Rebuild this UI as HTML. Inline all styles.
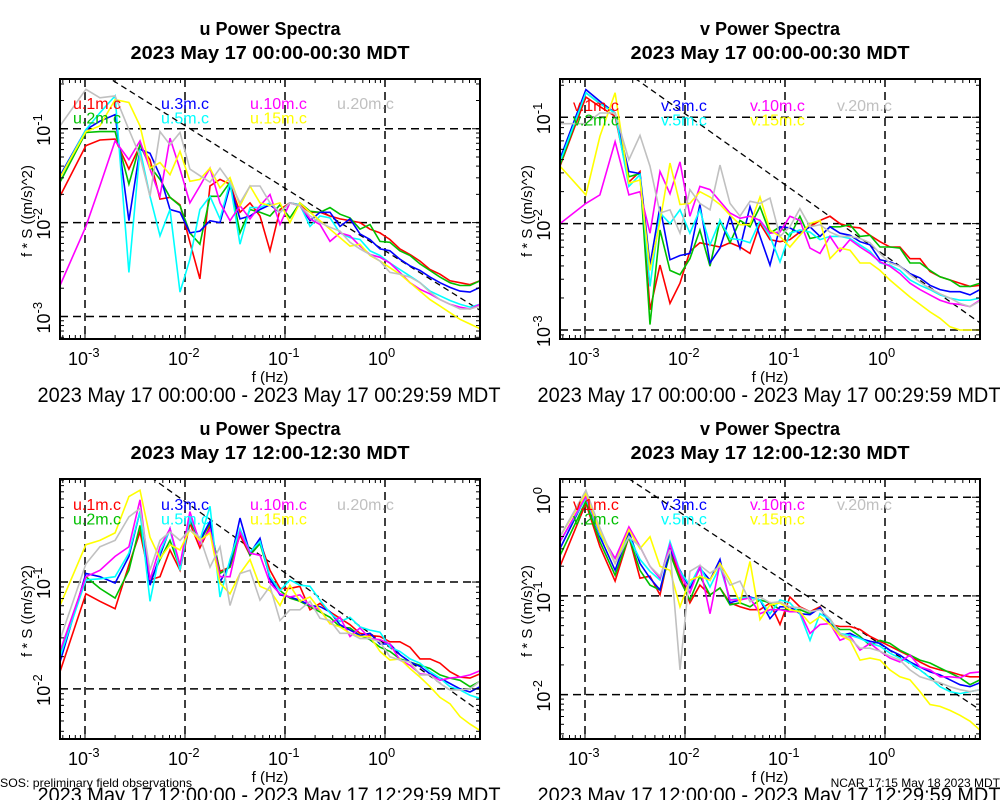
<!DOCTYPE html>
<html><head><meta charset="utf-8">
<style>
html,body{margin:0;padding:0;background:#fff;}
svg{display:block;font-family:"Liberation Sans",Arial,sans-serif;}
</style></head>
<body>
<svg id="chart" xmlns="http://www.w3.org/2000/svg" width="1000" height="800" viewBox="0 0 1000 800">
<text x="0" y="787" font-size="12" textLength="192" lengthAdjust="spacingAndGlyphs">SOS: preliminary field observations</text>
<text x="1000" y="787" font-size="12" text-anchor="end">NCAR 17:15 May 18 2023 MDT</text>
</svg>
<script>
// Frequencies (Hz), shared by all panels
const freqHz=[0.000562,0.00102,0.00141,0.00200,0.00275,0.00355,0.00447,0.00562,0.00708,0.00891,0.0112,0.0141,0.0178,0.0224,0.0282,0.0355,0.0447,0.0562,0.0708,0.0891,0.112,0.141,0.178,0.224,0.282,0.355,0.447,0.562,0.708,0.891,1.12,1.41,1.78,2.24,2.82,3.55,4.47,5.62,7.08,8.91];
const seriesNamesU=["u.1m.c","u.2m.c","u.3m.c","u.5m.c","u.10m.c","u.15m.c","u.20m.c"];
const seriesNamesV=["v.1m.c","v.2m.c","v.3m.c","v.5m.c","v.10m.c","v.15m.c","v.20m.c"];
// log10(f*S) values, panel 1 (u, 00:00-00:30)
const p1_1m=[-1.72,-1.18,-1.12,-1.11,-1.43,-1.18,-1.33,-1.75,-1.73,-1.81,-2.21,-2.60,-1.61,-1.54,-1.59,-1.89,-1.79,-1.93,-2.30,-1.86,-1.79,-1.81,-1.89,-1.89,-1.93,-1.96,-1.98,-2.00,-2.07,-2.11,-2.18,-2.28,-2.34,-2.41,-2.50,-2.55,-2.62,-2.64,-2.66,-2.62];
const p1_2m=[-1.57,-1.04,-1.03,-1.03,-1.59,-1.17,-1.40,-1.54,-1.73,-1.82,-2.11,-2.23,-1.72,-1.72,-1.57,-2.11,-1.86,-1.89,-1.93,-1.81,-1.95,-1.79,-1.88,-1.89,-1.84,-1.91,-1.95,-2.07,-2.02,-2.20,-2.21,-2.30,-2.35,-2.44,-2.51,-2.58,-2.64,-2.67,-2.67,-2.62];
const p1_3m=[-1.50,-1.01,-0.92,-0.85,-1.98,-1.22,-1.26,-1.50,-1.86,-1.89,-2.11,-2.09,-1.98,-2.00,-1.61,-1.96,-1.93,-1.86,-1.81,-1.89,-1.79,-1.82,-1.98,-1.89,-1.89,-2.04,-1.96,-2.12,-2.18,-2.28,-2.30,-2.39,-2.46,-2.51,-2.58,-2.64,-2.69,-2.73,-2.74,-2.69];
const p1_5m=[-1.52,-1.01,-0.83,-0.65,-2.53,-1.22,-1.72,-2.14,-1.86,-2.74,-2.39,-1.86,-1.72,-1.96,-1.57,-2.23,-1.84,-1.84,-1.79,-1.89,-1.79,-1.81,-2.04,-1.93,-1.95,-2.11,-2.16,-2.18,-2.30,-2.35,-2.43,-2.50,-2.57,-2.64,-2.73,-2.78,-2.83,-2.87,-2.90,-2.87];
const p1_10m=[-2.67,-2.04,-1.61,-1.13,-1.33,-1.13,-1.43,-1.72,-1.10,-1.43,-1.79,-1.61,-1.42,-1.79,-1.98,-1.82,-1.96,-1.82,-1.70,-2.02,-1.79,-1.82,-1.96,-2.02,-2.20,-2.11,-2.14,-2.25,-2.34,-2.37,-2.43,-2.53,-2.64,-2.71,-2.76,-2.82,-2.87,-2.90,-2.92,-2.87];
const p1_15m=[-1.52,-1.03,-0.97,-0.69,-0.72,-0.97,-1.42,-1.36,-1.49,-1.24,-1.56,-1.54,-1.42,-1.63,-1.52,-1.82,-1.61,-1.79,-1.82,-1.79,-2.00,-1.79,-1.89,-1.98,-2.07,-2.16,-2.25,-2.23,-2.35,-2.41,-2.48,-2.55,-2.64,-2.73,-2.82,-2.89,-2.96,-3.03,-3.08,-3.13];
const p1_20m=[-0.97,-0.58,-0.67,-0.65,-1.01,-1.29,-1.72,-1.03,-1.17,-1.04,-1.43,-1.50,-1.57,-1.42,-1.57,-1.79,-1.61,-1.61,-1.79,-1.89,-1.79,-1.82,-1.93,-2.00,-2.05,-2.09,-2.21,-2.28,-2.34,-2.41,-2.53,-2.55,-2.58,-2.64,-2.74,-2.82,-2.87,-2.92,-2.92,-2.89];
// panel 2 (v, 00:00-00:30)
const p2_1m=[-1.46,-0.81,-0.90,-0.99,-1.61,-1.51,-2.81,-2.39,-2.75,-2.56,-2.26,-2.18,-2.20,-2.22,-2.18,-2.22,-2.28,-2.00,-2.15,-2.17,-2.15,-2.08,-2.03,-1.97,-1.93,-2.00,-2.03,-2.04,-2.11,-2.17,-2.22,-2.22,-2.33,-2.33,-2.45,-2.50,-2.53,-2.56,-2.59,-2.58];
const p2_2m=[-1.45,-0.77,-0.87,-0.96,-1.56,-1.53,-2.95,-2.06,-2.44,-2.48,-2.33,-2.06,-2.40,-1.97,-2.18,-1.97,-2.03,-1.84,-2.09,-2.03,-2.12,-1.93,-2.14,-2.12,-2.03,-2.03,-2.01,-2.12,-2.11,-2.22,-2.22,-2.23,-2.37,-2.37,-2.44,-2.50,-2.53,-2.59,-2.59,-2.56];
const p2_3m=[-1.39,-0.74,-0.85,-0.96,-1.51,-1.53,-2.39,-1.84,-2.34,-2.30,-2.28,-1.82,-2.37,-2.23,-1.93,-2.23,-1.84,-2.12,-2.39,-2.03,-2.04,-2.09,-2.03,-2.12,-2.03,-2.09,-2.11,-2.17,-2.20,-2.34,-2.36,-2.40,-2.47,-2.51,-2.58,-2.62,-2.64,-2.64,-2.67,-2.62];
const p2_5m=[-1.42,-0.77,-0.87,-0.96,-1.65,-1.54,-2.59,-1.90,-2.00,-1.87,-2.09,-1.87,-2.20,-1.97,-2.14,-2.15,-2.18,-1.97,-2.12,-2.36,-2.09,-2.06,-2.08,-2.15,-2.12,-2.12,-2.14,-2.20,-2.26,-2.37,-2.39,-2.44,-2.53,-2.58,-2.62,-2.67,-2.70,-2.72,-2.72,-2.70];
const p2_10m=[-2.00,-1.81,-1.73,-1.23,-1.73,-1.70,-2.09,-1.51,-1.72,-1.42,-1.93,-1.65,-1.68,-1.79,-1.90,-1.95,-1.93,-1.97,-2.09,-2.08,-1.93,-1.97,-2.23,-2.28,-2.12,-2.26,-2.15,-2.22,-2.28,-2.36,-2.40,-2.47,-2.56,-2.62,-2.67,-2.72,-2.75,-2.76,-2.78,-2.72];
const p2_15m=[-1.46,-1.73,-1.18,-0.77,-1.62,-1.59,-2.44,-1.98,-1.43,-1.82,-1.81,-1.70,-1.75,-1.82,-1.92,-2.01,-2.01,-1.75,-2.06,-2.12,-2.22,-2.11,-2.00,-1.97,-2.33,-2.23,-2.25,-2.37,-2.37,-2.44,-2.53,-2.61,-2.69,-2.76,-2.83,-2.89,-2.97,-3.00,-3.00,-3.00];
const p2_20m=[-1.06,-1.06,-0.96,-0.96,-1.40,-1.17,-1.46,-1.90,-1.87,-2.09,-1.68,-1.81,-1.87,-1.45,-1.81,-1.93,-1.79,-1.81,-1.76,-2.12,-2.03,-1.86,-2.03,-2.01,-2.08,-2.12,-2.12,-2.14,-2.18,-2.28,-2.37,-2.40,-2.48,-2.55,-2.61,-2.66,-2.70,-2.75,-2.78,-2.73];
// panel 3 (u, 12:00-12:30)
const p3_1m=[-1.84,-1.11,-1.18,-1.25,-0.84,-0.53,-0.98,-0.95,-0.70,-0.89,-0.45,-0.68,-0.48,-0.90,-0.86,-0.56,-0.75,-0.62,-0.89,-1.06,-1.06,-1.04,-1.26,-1.20,-1.28,-1.34,-1.40,-1.48,-1.50,-1.51,-1.56,-1.56,-1.61,-1.72,-1.72,-1.76,-1.84,-1.89,-1.90,-1.86];
const p3_2m=[-1.67,-0.95,-1.06,-1.15,-0.89,-0.47,-1.00,-0.79,-0.61,-0.87,-0.42,-0.62,-0.45,-0.92,-0.86,-0.51,-0.75,-0.64,-0.95,-1.08,-1.15,-1.18,-1.23,-1.28,-1.33,-1.42,-1.43,-1.50,-1.54,-1.61,-1.65,-1.72,-1.75,-1.78,-1.81,-1.87,-1.90,-1.92,-1.98,-1.93];
const p3_3m=[-1.75,-0.92,-0.95,-1.01,-0.76,-0.34,-1.03,-0.75,-0.50,-0.87,-0.40,-0.61,-0.43,-1.00,-0.83,-0.40,-0.73,-0.59,-0.97,-1.12,-1.14,-1.17,-1.22,-1.23,-1.28,-1.40,-1.45,-1.50,-1.48,-1.58,-1.58,-1.68,-1.75,-1.79,-1.86,-1.90,-1.95,-2.00,-2.03,-1.98];
const p3_5m=[-1.70,-0.98,-0.97,-0.95,-0.73,-0.34,-1.18,-0.72,-0.51,-0.89,-0.39,-0.61,-0.29,-1.14,-0.79,-0.50,-0.72,-0.62,-0.95,-1.08,-0.98,-1.03,-1.04,-1.17,-1.29,-1.37,-1.33,-1.42,-1.45,-1.47,-1.61,-1.65,-1.72,-1.76,-1.84,-1.90,-1.98,-2.01,-2.06,-2.09];
const p3_10m=[-1.65,-0.95,-0.89,-0.76,-0.67,-0.23,-0.98,-0.67,-0.50,-0.84,-0.34,-0.64,-0.51,-0.95,-0.95,-0.53,-0.73,-0.75,-1.01,-1.11,-1.14,-1.12,-1.22,-1.26,-1.39,-1.33,-1.51,-1.43,-1.53,-1.54,-1.58,-1.73,-1.78,-1.86,-1.87,-1.92,-1.90,-1.89,-1.87,-1.83];
const p3_15m=[-1.22,-0.65,-0.61,-0.54,-0.20,-0.14,-0.58,-0.78,-0.65,-0.70,-0.51,-0.61,-0.54,-1.01,-1.11,-0.92,-0.79,-1.04,-1.08,-1.22,-1.03,-1.18,-1.14,-1.26,-1.39,-1.42,-1.48,-1.51,-1.51,-1.65,-1.73,-1.72,-1.81,-1.89,-1.98,-2.08,-2.14,-2.26,-2.33,-2.39];
const p3_20m=[-1.54,-0.83,-0.67,-0.61,-0.39,-0.31,-0.89,-0.61,-0.53,-0.61,-0.51,-0.58,-0.86,-0.67,-1.22,-0.92,-0.89,-1.17,-1.04,-1.36,-1.26,-1.26,-1.18,-1.34,-1.36,-1.48,-1.48,-1.53,-1.53,-1.56,-1.70,-1.73,-1.75,-1.87,-1.87,-1.95,-2.01,-2.01,-2.00,-1.93];
// panel 4 (v, 12:00-12:30)
const p4_1m=[-0.70,-0.06,-0.50,-0.85,-0.40,-0.82,-0.80,-0.99,-0.53,-0.80,-1.07,-0.89,-0.99,-0.92,-1.07,-1.11,-1.14,-1.14,-1.07,-1.29,-1.01,-1.11,-1.16,-1.11,-1.29,-1.31,-1.31,-1.34,-1.41,-1.46,-1.51,-1.56,-1.61,-1.67,-1.72,-1.75,-1.77,-1.80,-1.82,-1.82];
const p4_2m=[-0.59,-0.04,-0.45,-0.79,-0.40,-0.74,-0.89,-0.94,-0.57,-0.84,-1.04,-0.80,-0.99,-0.92,-1.09,-1.07,-1.11,-1.04,-1.07,-1.14,-1.14,-1.14,-1.18,-1.12,-1.28,-1.34,-1.34,-1.41,-1.50,-1.45,-1.48,-1.55,-1.60,-1.65,-1.68,-1.73,-1.78,-1.83,-1.90,-1.85];
const p4_3m=[-0.52,0.01,-0.40,-0.74,-0.35,-0.67,-0.82,-0.94,-0.53,-0.74,-0.92,-0.72,-0.84,-0.63,-1.07,-1.04,-1.01,-1.04,-1.23,-1.11,-1.11,-1.18,-1.19,-1.12,-1.28,-1.40,-1.38,-1.43,-1.46,-1.48,-1.55,-1.60,-1.67,-1.72,-1.77,-1.80,-1.85,-1.90,-1.92,-1.88];
const p4_5m=[-0.45,-0.01,-0.38,-0.62,-0.40,-0.63,-0.75,-0.84,-0.45,-0.75,-0.89,-0.70,-0.91,-0.70,-1.04,-1.02,-1.02,-1.04,-1.18,-1.04,-1.07,-1.18,-1.45,-1.18,-1.24,-1.38,-1.40,-1.43,-1.48,-1.51,-1.58,-1.63,-1.68,-1.75,-1.83,-1.92,-1.97,-1.99,-1.97,-1.95];
const p4_10m=[-0.45,0.01,-0.36,-0.62,-0.30,-0.50,-0.70,-0.82,-0.48,-0.77,-0.97,-0.70,-1.18,-0.67,-1.04,-1.04,-1.02,-1.18,-1.14,-1.14,-1.16,-1.16,-1.38,-1.29,-1.28,-1.45,-1.41,-1.55,-1.48,-1.56,-1.63,-1.67,-1.60,-1.72,-1.75,-1.82,-1.82,-1.83,-1.78,-1.77];
const p4_15m=[-0.40,0.04,-0.35,-0.67,-0.33,-0.52,-0.40,-0.70,-0.74,-1.11,-0.84,-0.80,-0.84,-0.67,-0.84,-1.07,-0.65,-1.24,-1.09,-1.07,-1.14,-1.16,-1.28,-1.21,-1.29,-1.40,-1.45,-1.65,-1.63,-1.65,-1.75,-1.82,-1.85,-1.97,-2.10,-2.12,-2.16,-2.21,-2.27,-2.36];
const p4_20m=[-0.40,0.07,-0.31,-0.67,-0.40,-0.50,-0.70,-0.80,-0.53,-1.75,-0.75,-0.69,-0.77,-0.70,-0.89,-0.85,-1.06,-1.01,-1.07,-1.06,-1.11,-1.12,-1.16,-1.14,-1.23,-1.38,-1.43,-1.53,-1.53,-1.56,-1.61,-1.65,-1.75,-1.82,-1.85,-1.88,-1.92,-1.95,-1.97,-1.95,-1.92].slice(0,40);
// reference -2/3 slope line intercepts (log10 at 1 Hz)
const refIntercepts=[-2.30,-2.30,-1.58,-1.52];
// y-axis ranges (log10) per panel
const yMinLog=[-3.24,-3.085,-2.47,-2.45];
const yMaxLog=[-0.47,-0.64,-0.035,0.185];
const xMinLog=-3.25, xMaxLog=0.95;
const colors=["#ff0000","#00c000","#0000ff","#00ffff","#ff00ff","#ffff00","#c0c0c0"];
const titles1=["u Power Spectra","v Power Spectra","u Power Spectra","v Power Spectra"];
const titles2=["2023 May 17 00:00-00:30 MDT","2023 May 17 00:00-00:30 MDT","2023 May 17 12:00-12:30 MDT","2023 May 17 12:00-12:30 MDT"];
const dateLines=["2023 May 17 00:00:00 - 2023 May 17 00:29:59 MDT","2023 May 17 00:00:00 - 2023 May 17 00:29:59 MDT","2023 May 17 12:00:00 - 2023 May 17 12:29:59 MDT","2023 May 17 12:00:00 - 2023 May 17 12:29:59 MDT"];
const panelData=[[p1_1m,p1_2m,p1_3m,p1_5m,p1_10m,p1_15m,p1_20m],[p2_1m,p2_2m,p2_3m,p2_5m,p2_10m,p2_15m,p2_20m],[p3_1m,p3_2m,p3_3m,p3_5m,p3_10m,p3_15m,p3_20m],[p4_1m,p4_2m,p4_3m,p4_5m,p4_10m,p4_15m,p4_20m]];

const NS="http://www.w3.org/2000/svg";
const svg=document.getElementById('chart');
function mk(tag,attrs,parent){const e=document.createElementNS(NS,tag);for(const k in attrs)e.setAttribute(k,attrs[k]);(parent||svg).appendChild(e);return e;}
function expText(parent,base,exp,attrs,fs){
  const t=mk('text',attrs,parent);
  const a=document.createElementNS(NS,'tspan');a.textContent=base;t.appendChild(a);
  const b=document.createElementNS(NS,'tspan');b.setAttribute('dy',-fs*0.45);b.setAttribute('font-size',fs*0.72);b.textContent=exp;t.appendChild(b);
  return t;
}
const boxes=[[60,79],[560,79],[60,479],[560,479]];
const W=420,H=260;
for(let p=0;p<4;p++){
  const [bx,by]=boxes[p];
  const cx=bx+210;
  const g=mk('g',{});
  
  
  const xs=lf=>bx+(lf-xMinLog)/(xMaxLog-xMinLog)*W;
  const ys=lv=>by+(yMaxLog[p]-lv)/(yMaxLog[p]-yMinLog[p])*H;
  const t1=mk('text',{x:cx,y:by-44,'text-anchor':'middle','font-size':18,'font-weight':'bold'},g);t1.textContent=titles1[p];
  
  
  const t2=mk('text',{x:cx,y:by-20,'text-anchor':'middle','font-size':18,'font-weight':'bold',textLength:279,lengthAdjust:'spacingAndGlyphs'},g);t2.textContent=titles2[p];
  
  
  const cp=mk('clipPath',{id:'clip'+p},g);mk('rect',{x:bx,y:by,width:W,height:H},cp);
  const pg=mk('g',{'clip-path':'url(#clip'+p+')'},g);
  for(let d=-3;d<=0;d++){
    const l=mk('line',{x1:xs(d),x2:xs(d),y1:by,y2:by+H,stroke:'#000','stroke-width':1.5,'stroke-dasharray':'8,5'},pg);
    
    
  }
  for(let d=Math.ceil(yMinLog[p]);d<=Math.floor(yMaxLog[p]);d++){
    const l=mk('line',{x1:bx,x2:bx+W,y1:ys(d),y2:ys(d),stroke:'#000','stroke-width':1.5,'stroke-dasharray':'8,5'},pg);
    
    
  }
  const r0=refIntercepts[p]-(2/3)*(-3.4), r1=refIntercepts[p]-(2/3)*xMaxLog;
  const rl=mk('line',{x1:xs(-3.4),y1:ys(r0),x2:xs(xMaxLog),y2:ys(r1),stroke:'#000','stroke-width':1.3,'stroke-dasharray':'6,4'},pg);
  
  
  const data=panelData[p];
  const names=(p%2===0)?seriesNamesU:seriesNamesV;
  for(let s=0;s<7;s++){
    const pts=data[s].map((v,i)=>xs(Math.log10(freqHz[i])).toFixed(1)+','+ys(v).toFixed(1)).join(' ');
    const pl=mk('polyline',{points:pts,fill:'none',stroke:colors[s],'stroke-width':1.6,'stroke-linejoin':'miter'},pg);
    
    
  }
  const colX=[13,101,190,277];
  const legendPos=[[0,0],[0,1],[1,0],[1,1],[2,0],[2,1],[3,0]];
  const ly0=(p===1)?32:(p>=2?31:30);
  for(let s=0;s<7;s++){
    const [c,r]=legendPos[s];
    const lt=mk('text',{x:bx+colX[c],y:by+ly0+r*14.5,'font-size':16,fill:colors[s]},g);
    lt.textContent=names[s];
    
    
  }
  const fr=mk('rect',{x:bx,y:by,width:W,height:H,fill:'none',stroke:'#000','stroke-width':2},g);
  
  
  for(let d=-4;d<=0;d++){
    for(let m=1;m<10;m++){
      const lf=d+Math.log10(m);
      if(lf<xMinLog||lf>xMaxLog)continue;
      const x=xs(lf),len=m===1?8:4;
      mk('line',{x1:x,x2:x,y1:by,y2:by+len,stroke:'#000','stroke-width':1},g);
      mk('line',{x1:x,x2:x,y1:by+H,y2:by+H-len,stroke:'#000','stroke-width':1},g);
    }
  }
  for(let d=-3;d<=0;d++){
    const tl=expText(g,'10',String(d),{x:xs(d)-17,y:by+H+26,'text-anchor':'start','font-size':18},18);
    
    
  }
  for(let d=-4;d<=0;d++){
    for(let m=1;m<10;m++){
      const lv=d+Math.log10(m);
      if(lv<yMinLog[p]||lv>yMaxLog[p])continue;
      const y=ys(lv),len=m===1?8:4;
      mk('line',{x1:bx,x2:bx+len,y1:y,y2:y,stroke:'#000','stroke-width':1},g);
      mk('line',{x1:bx+W,x2:bx+W-len,y1:y,y2:y,stroke:'#000','stroke-width':1},g);
    }
  }
  for(let d=Math.ceil(yMinLog[p]);d<=Math.floor(yMaxLog[p]);d++){
    const tl=expText(g,'10',String(d),{x:0,y:0,'text-anchor':'start','font-size':18,transform:'translate('+(bx-10)+','+(ys(d)+17)+') rotate(-90)'},18);
    
    
  }
  const yt=mk('text',{x:0,y:0,'text-anchor':'middle','font-size':15,transform:'translate('+(bx-28)+','+(by+132)+') rotate(-90)'},g);
  yt.textContent='f * S ((m/s)^2)';
  
  
  const xt=mk('text',{x:cx,y:by+H+43,'text-anchor':'middle','font-size':15},g);
  xt.textContent='f (Hz)';
  
  
  const dl=mk('text',{x:cx-1,y:by+H+63,'text-anchor':'middle','font-size':21,textLength:463,lengthAdjust:'spacingAndGlyphs'},g);
  dl.textContent=dateLines[p];
  
  
}
</script>
</body></html>
